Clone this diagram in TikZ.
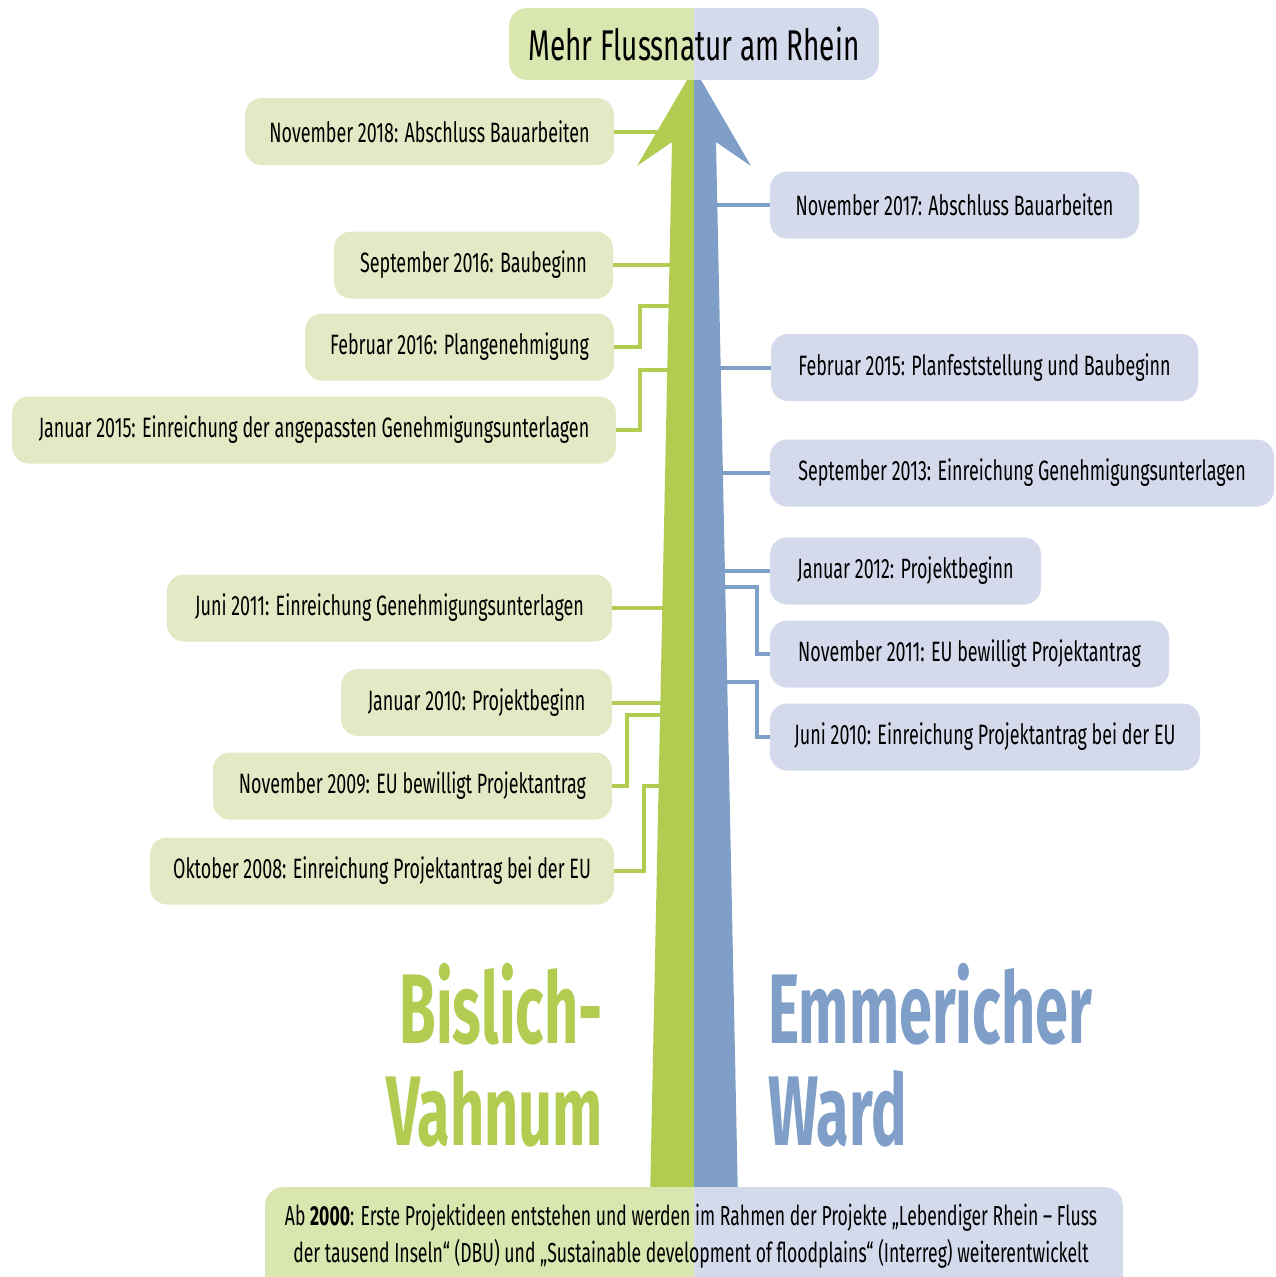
\documentclass[tikz,border=0pt]{standalone}
\usepackage{fontspec}
\setmainfont[FakeStretch=0.64]{Fira Sans}
\newfontfamily\bigfam[FakeStretch=0.6]{Fira Sans}
\newfontfamily\titlefam[FakeStretch=0.65]{Fira Sans}
\definecolor{gA}{HTML}{B2CC52}
\definecolor{bA}{HTML}{7F9FC8}
\definecolor{gL}{HTML}{E1EAC4}
\definecolor{bL}{HTML}{D4DAEC}
\definecolor{gT}{HTML}{D9E6B0}
\definecolor{bT}{HTML}{D3DAEB}
\newcommand\lab{\fontsize{28}{32}\selectfont}
\begin{document}
\begin{tikzpicture}[x=1pt,y=-1pt,
  box/.style={rounded corners=17pt, minimum height=67pt, inner sep=0pt, font=\lab, text=black},
  gbox/.style={box, fill=gL},
  bbox/.style={box, fill=bL},
  gline/.style={draw=gA, line width=4pt},
  bline/.style={draw=bA, line width=4pt},
  split/.style={path picture={
    \fill[gT, sharp corners] (path picture bounding box.south west) rectangle (path picture bounding box.north);
    \fill[bT, sharp corners] (path picture bounding box.south) rectangle (path picture bounding box.north east);}},
  biglab/.style={inner sep=0pt, font=\bigfam\bfseries\fontsize{99}{110}\selectfont}
]
\useasboundingbox (0,0) rectangle (1276,1277);
\clip (0,0) rectangle (1276,1277);

% shaft reference coordinates
\coordinate (sL) at (675,0);
\coordinate (sR) at (712,0);

% left boxes
\node[gbox, minimum width=369pt] (l1) at (429.5,131.5) {November 2018: Abschluss Bauarbeiten};
\node[gbox, minimum width=279pt] (l2) at (473.5,265) {September 2016: Baubeginn};
\node[gbox, minimum width=309pt] (l3) at (459.5,347) {Februar 2016: Plangenehmigung};
\node[gbox, minimum width=604pt] (l4) at (314,430) {Januar 2015: Einreichung der angepassten Genehmigungsunterlagen};
\node[gbox, minimum width=445pt] (l5) at (389.5,608) {Juni 2011: Einreichung Genehmigungsunterlagen};
\node[gbox, minimum width=271pt] (l6) at (476.5,702.5) {Januar 2010: Projektbeginn};
\node[gbox, minimum width=399pt] (l7) at (412.5,786) {November 2009: EU bewilligt Projektantrag};
\node[gbox, minimum width=464pt] (l8) at (382,871) {Oktober 2008: Einreichung Projektantrag bei der EU};

% right boxes
\node[bbox, minimum width=369pt] (r1) at (954.5,205) {November 2017: Abschluss Bauarbeiten};
\node[bbox, minimum width=427pt] (r2) at (984.5,367.5) {Februar 2015: Planfeststellung und Baubeginn};
\node[bbox, minimum width=504pt] (r3) at (1022,473) {September 2013: Einreichung Genehmigungsunterlagen};
\node[bbox, minimum width=271pt] (r4) at (905.5,571) {Januar 2012: Projektbeginn};
\node[bbox, minimum width=399pt] (r5) at (969.5,654) {November 2011: EU bewilligt Projektantrag};
\node[bbox, minimum width=430pt] (r6) at (985,737) {Juni 2010: Einreichung Projektantrag bei der EU};

% connectors left
\draw[gline] (l1.east) -- (l1.east -| sL);
\draw[gline] (l2.east) -- (l2.east -| sL);
\coordinate (g3) at (675,306);
\draw[gline] (l3.east) -- ++(26,0) |- (g3);
\coordinate (g4) at (675,370);
\draw[gline] (l4.east) -- ++(24,0) |- (g4);
\draw[gline] (l5.east) -- (l5.east -| sL);
\draw[gline] (l6.east) -- (l6.east -| sL);
\coordinate (g7) at (675,715);
\draw[gline] (l7.east) -- ++(15,0) |- (g7);
\coordinate (g8) at (675,786);
\draw[gline] (l8.east) -- ++(30,0) |- (g8);

% connectors right
\draw[bline] (r1.west -| sR) -- (r1.west);
\draw[bline] (r2.west -| sR) -- (r2.west);
\draw[bline] (r3.west -| sR) -- (r3.west);
\draw[bline] (r4.west -| sR) -- (r4.west);
\coordinate (b5) at (712,587);
\draw[bline] (b5) -- ++(45,0) |- (r5.west);
\coordinate (b6) at (712,682);
\draw[bline] (b6) -- ++(45,0) |- (r6.west);

% arrow
\fill[gA] (694,68) -- (637,166) -- (672,142) -- (650,1200) -- (694,1200) -- cycle;
\fill[bA] (694,68) -- (751,166) -- (716,142) -- (738,1200) -- (694,1200) -- cycle;

% title
\node[split, rounded corners=18pt, minimum width=370pt, minimum height=72pt, inner sep=0pt,
  font=\titlefam\fontsize{43}{48}\selectfont] (title) at (694,44) {Mehr Flussnatur am Rhein};

% big labels
\node[biglab, text=gA, anchor=base east] (bv1) at (603,1043) {Bislich-};
\node[biglab, text=gA, anchor=base east] (bv2) at (603,1145) {Vahnum};
\node[biglab, text=bA, anchor=base west] (ew1) at (768,1043) {Emmericher};
\node[biglab, text=bA, anchor=base west] (ew2) at (768,1145) {Ward};

% bottom
\node[split, rounded corners=18pt, minimum width=858pt, minimum height=140pt, inner sep=0pt,
  anchor=north] (bot) at (694,1187) {};
\node[align=center, font=\fontsize{27.5}{37}\selectfont, inner sep=0pt] (bottxt) at (691,1236)
  {Ab \textbf{2000}: Erste Projektideen entstehen und werden im Rahmen der Projekte „Lebendiger Rhein -- Fluss\\
   der tausend Inseln“ (DBU) und „Sustainable development of floodplains“ (Interreg) weiterentwickelt};
\end{tikzpicture}
\end{document}
